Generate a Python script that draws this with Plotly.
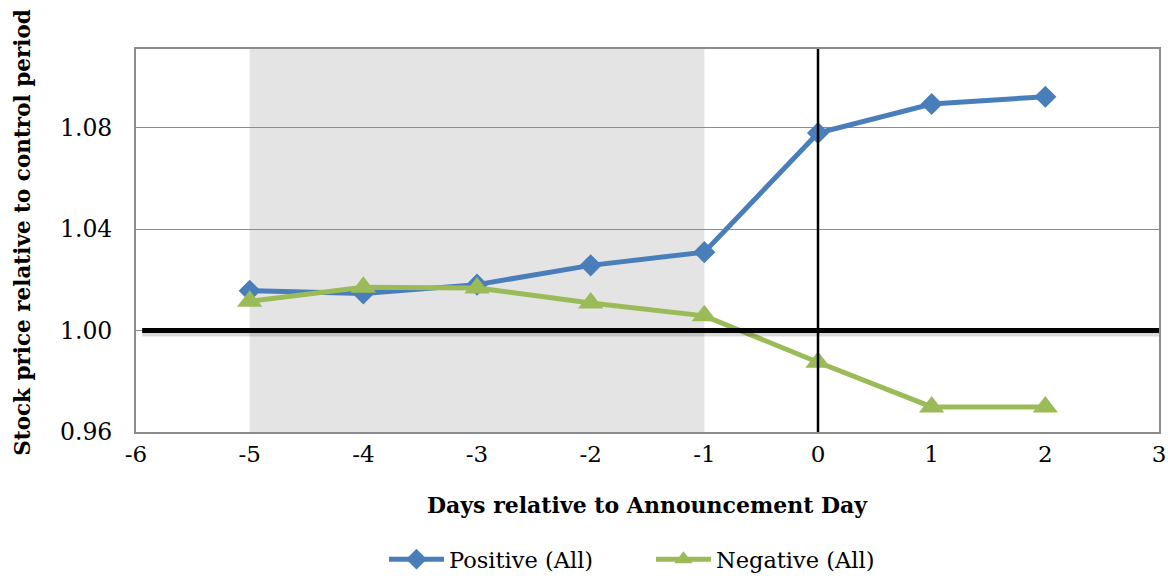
import plotly.graph_objects as go

days = [-5, -4, -3, -2, -1, 0, 1, 2]
positive = [1.0157, 1.0146, 1.0181, 1.0257, 1.0309, 1.0779, 1.0893, 1.0922]
negative = [1.0115, 1.0171, 1.0168, 1.0109, 1.0058, 0.9875, 0.9699, 0.9699]
x_ticks = [-6, -5, -4, -3, -2, -1, 0, 1, 2, 3]
y_ticks = [0.96, 1.00, 1.04, 1.08]

font_family = "DejaVu Serif"

fig = go.Figure()
fig.add_trace(go.Scatter(
    x=days, y=positive, mode="lines+markers", name="Positive (All)",
    line=dict(color="#4a7ebb", width=5),
    marker=dict(symbol="diamond", size=17, color="#4a7ebb"),
))
fig.add_trace(go.Scatter(
    x=days, y=negative, mode="lines+markers", name="Negative (All)",
    line=dict(color="#9bbb59", width=5),
    marker=dict(symbol="triangle-up", size=22, color="#9bbb59"),
))

# shaded window
fig.add_shape(type="rect", xref="x", yref="paper", x0=-5, x1=-1, y0=0, y1=1,
              fillcolor="#e4e4e4", line=dict(width=0), layer="below")
# shadow + thick baseline at 1.00
fig.add_shape(type="line", xref="paper", yref="y", x0=0.006, x1=1.0, y0=0.9986, y1=0.9986,
              line=dict(color="rgba(0,0,0,0.15)", width=5), layer="above")
fig.add_shape(type="line", xref="paper", yref="y", x0=0.006, x1=1.0, y0=1.0, y1=1.0,
              line=dict(color="black", width=5), layer="above")
# vertical line at day 0
fig.add_shape(type="line", xref="x", yref="paper", x0=0, x1=0, y0=0, y1=1,
              line=dict(color="black", width=2.5), layer="above")

# axis titles as annotations for precise placement
fig.add_annotation(text="<b>Days relative to Announcement Day</b>", xref="paper", yref="paper",
                   x=0.5, y=0, xanchor="center", yanchor="middle", yshift=-73,
                   showarrow=False, font=dict(size=22))
fig.add_annotation(text="<b>Stock price relative to control period</b>", xref="paper", yref="paper",
                   x=0, y=0.5, xanchor="center", yanchor="middle", xshift=-113.7, yshift=8,
                   textangle=-90, showarrow=False, font=dict(size=21.5))

fig.update_layout(
    width=1176, height=591,
    margin=dict(l=136, r=10, t=49, b=150),
    paper_bgcolor="white", plot_bgcolor="white",
    font=dict(family=font_family, color="black", size=22),
    showlegend=True,
    legend=dict(orientation="h", x=0.2424, xanchor="left", y=-0.333, yanchor="middle",
                font=dict(size=22.5), itemwidth=55, entrywidth=197, tracegroupgap=0),
    xaxis=dict(
        range=[-6, 3], tickvals=x_ticks, ticktext=[str(v) for v in x_ticks],
        showgrid=False, zeroline=False, showline=True, linecolor="#8c8c8c", linewidth=2,
        mirror=True, ticks="", tickfont=dict(size=23),
    ),
    yaxis=dict(
        range=[0.96, 1.111], tickvals=y_ticks, ticktext=["0.96", "1.00", "1.04", "1.08"],
        showgrid=True, gridcolor="#8c8c8c", gridwidth=1, zeroline=False,
        showline=True, linecolor="#8c8c8c", linewidth=2, mirror=True, ticks="",
        tickfont=dict(size=23.5), ticklabelstandoff=17,
    ),
)

fig.write_html("out.html", config={"displayModeBar": False},
               post_script="document.body.style.margin='0';document.body.style.overflow='hidden';")
